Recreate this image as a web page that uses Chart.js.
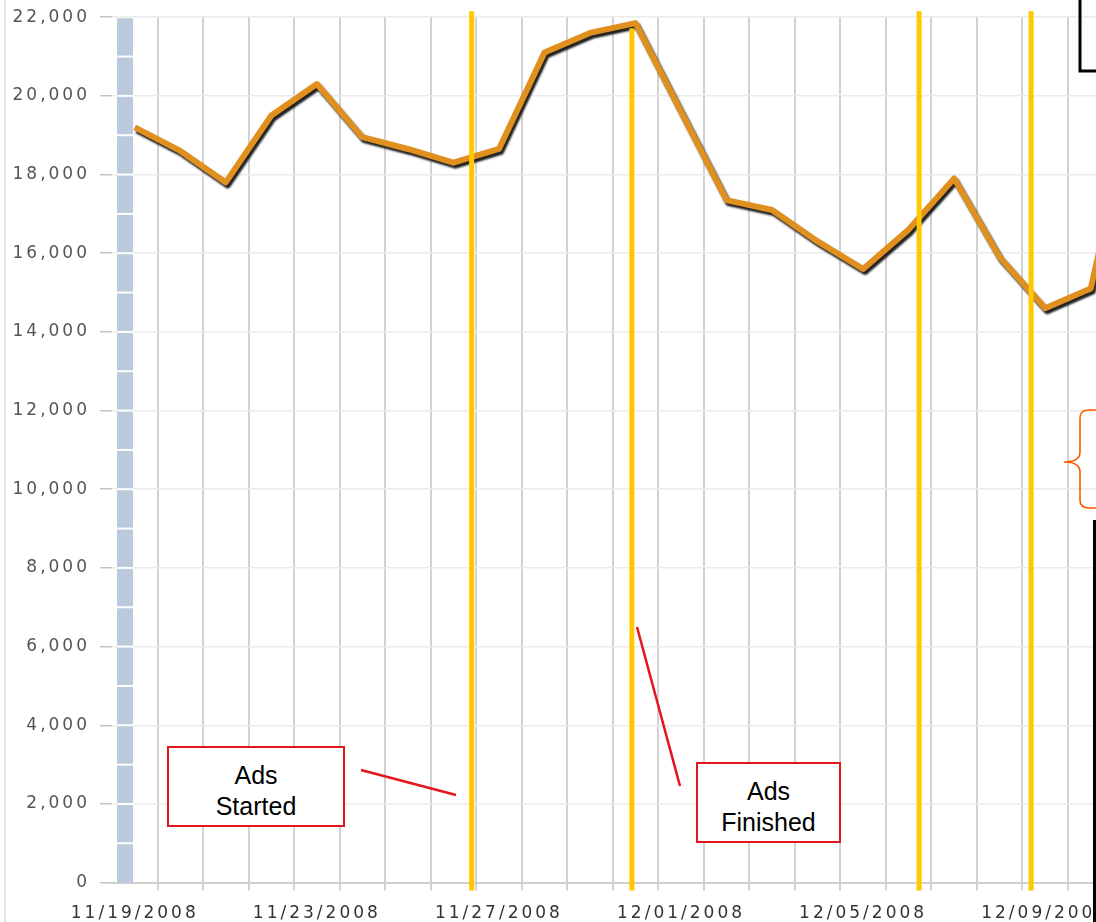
<!DOCTYPE html>
<html>
<head>
<meta charset="utf-8">
<script src="https://cdn.jsdelivr.net/npm/chart.js@4.4.1/dist/chart.umd.min.js"></script>
<style>
    body { margin: 0; width: 1096px; height: 922px; overflow: hidden; position: relative; background: #fff; }
    .chart-container { position: absolute; left: 0; top: -3px; width: 1159px; height: 940px; }
    .edge { position: absolute; left: 4px; top: 0; width: 2px; height: 922px; background: #e2e2e2; }
    .note { position: absolute; box-sizing: border-box; border: 2px solid #e3161e; background: #fff;
            font-family: "Liberation Sans", Arial, sans-serif; font-size: 25px; line-height: 31px;
            text-align: center; padding-top: 12px; color: #000; }
    svg.overlay { position: absolute; left: 0; top: 0; pointer-events: none; }
</style>
</head>
<body>
<div class="edge"></div>
<div class="chart-container"><canvas id="chart"></canvas></div>
<div class="note" style="left:167px; top:746px; width:178px; height:81px;">Ads<br>Started</div>
<div class="note" style="left:696px; top:762px; width:145px; height:81px;">Ads<br>Finished</div>
<svg class="overlay" width="1096" height="922">
    <line x1="361" y1="770" x2="456" y2="795" stroke="#e3161e" stroke-width="2.5"/>
    <line x1="637" y1="627" x2="680" y2="786" stroke="#e3161e" stroke-width="2.5"/>
    <polyline points="1080,0 1080,71 1096,71" fill="none" stroke="#000" stroke-width="3"/>
    <path d="M1096,410 L1089,410 Q1080,410 1080,418 L1080,452 Q1080,462 1064,462 Q1080,462 1080,472 L1080,500 Q1080,508 1089,508 L1096,508"
          fill="none" stroke="#ff5a00" stroke-width="1.6"/>
    <line x1="1094.5" y1="520" x2="1094.5" y2="922" stroke="#000" stroke-width="3"/>
</svg>
<script>
// daily dates shown on the x axis (every 4th one gets a label)
const dates = [
    '11/19/2008', '11/20/2008', '11/21/2008', '11/22/2008', '11/23/2008', '11/24/2008',
    '11/25/2008', '11/26/2008', '11/27/2008', '11/28/2008', '11/29/2008', '11/30/2008',
    '12/01/2008', '12/02/2008', '12/03/2008', '12/04/2008', '12/05/2008', '12/06/2008',
    '12/07/2008', '12/08/2008', '12/09/2008', '12/10/2008', '12/11/2008'
];
const visits = [
    19200, 18600, 17800, 19500, 20300, 18950,
    18650, 18300, 18650, 21100, 21600, 21850,
    19600, 17350, 17100, 16300, 15600, 16600,
    17900, 15900, 14600, 15100, 20200
];
const yTicks = [0, 2000, 4000, 6000, 8000, 10000, 12000, 14000, 16000, 18000, 20000, 22000];
// where the yellow marker lines sit, in category index units
const adMarkers = [7.4, 10.92, 17.23, 19.69];

const fontFamily = '"DejaVu Sans", Verdana, sans-serif';

const decorPlugin = {
    id: 'decor',
    beforeDraw(chart) {
        chart.ctx.letterSpacing = '3px';
    },
    beforeDatasetsDraw(chart) {
        // blue band along the left of the plot with white separators
        const { ctx, chartArea, scales } = chart;
        const y = scales.y;
        ctx.save();
        ctx.letterSpacing = '0px';
        ctx.fillStyle = '#b9cadc';
        ctx.fillRect(chartArea.left + 5, chartArea.top + 1, 16, chartArea.bottom - chartArea.top - 1);
        ctx.strokeStyle = '#ffffff';
        ctx.lineWidth = 2;
        for (let v = 1000; v < yTicks[yTicks.length - 1]; v += 1000) {
            const py = y.getPixelForValue(v);
            ctx.beginPath();
            ctx.moveTo(chartArea.left + 5, py);
            ctx.lineTo(chartArea.left + 21, py);
            ctx.stroke();
        }
        ctx.restore();
    },
    beforeDatasetDraw(chart) {
        const ctx = chart.ctx;
        ctx.save();
        ctx.shadowColor = 'rgba(20, 20, 20, 0.95)';
        ctx.shadowOffsetX = 2;
        ctx.shadowOffsetY = 3;
        ctx.shadowBlur = 2;
    },
    afterDatasetDraw(chart) {
        chart.ctx.restore();
    },
    afterDraw(chart) {
        const { ctx, chartArea, scales } = chart;
        ctx.save();
        ctx.strokeStyle = '#ffc800';
        ctx.lineWidth = 5;
        adMarkers.forEach((m, i) => {
            const px = scales.x.getPixelForValue(m);
            ctx.beginPath();
            ctx.moveTo(px, i === 1 ? chartArea.top + 11 : chartArea.top - 6);
            ctx.lineTo(px, chartArea.bottom + 8);
            ctx.stroke();
        });
        ctx.restore();
        ctx.letterSpacing = '0px';
    }
};

const ctx = document.getElementById('chart').getContext('2d');
new Chart(ctx, {
    type: 'line',
    data: {
        labels: dates,
        datasets: [{
            data: visits,
            borderColor: '#e0901e',
            borderWidth: 6,
            borderJoinStyle: 'round',
            pointRadius: 0,
            tension: 0,
            fill: false
        }]
    },
    options: {
        responsive: true,
        maintainAspectRatio: false,
        animation: false,
        layout: { padding: { top: 5, left: 0, right: 0, bottom: 0 } },
        plugins: { legend: { display: false }, tooltip: { enabled: false } },
        scales: {
            x: {
                offset: true,
                grid: {
                    offset: true,
                    color: c => c.index === 0 ? 'rgba(0,0,0,0)' : '#d2d2d2',
                    lineWidth: 2,
                    tickLength: 8
                },
                border: { color: '#cfcfcf', width: 2 },
                ticks: {
                    autoSkip: false,
                    maxRotation: 0,
                    padding: 13,
                    color: '#333',
                    font: { family: fontFamily, size: 17 },
                    callback(v, i) { return i % 4 === 0 ? dates[i] : ''; }
                }
            },
            y: {
                min: yTicks[0],
                max: yTicks[yTicks.length - 1],
                afterBuildTicks(scale) { scale.ticks = yTicks.map(v => ({ value: v })); },
                afterFit(scale) { scale.width = 112; },
                grid: { color: '#ebebeb', lineWidth: 1.5, tickLength: 12, tickColor: '#c4c4c4' },
                border: { display: false },
                ticks: {
                    padding: 10,
                    color: '#555',
                    font: { family: fontFamily, size: 17 }
                }
            }
        }
    },
    plugins: [decorPlugin]
});
</script>
</body>
</html>
